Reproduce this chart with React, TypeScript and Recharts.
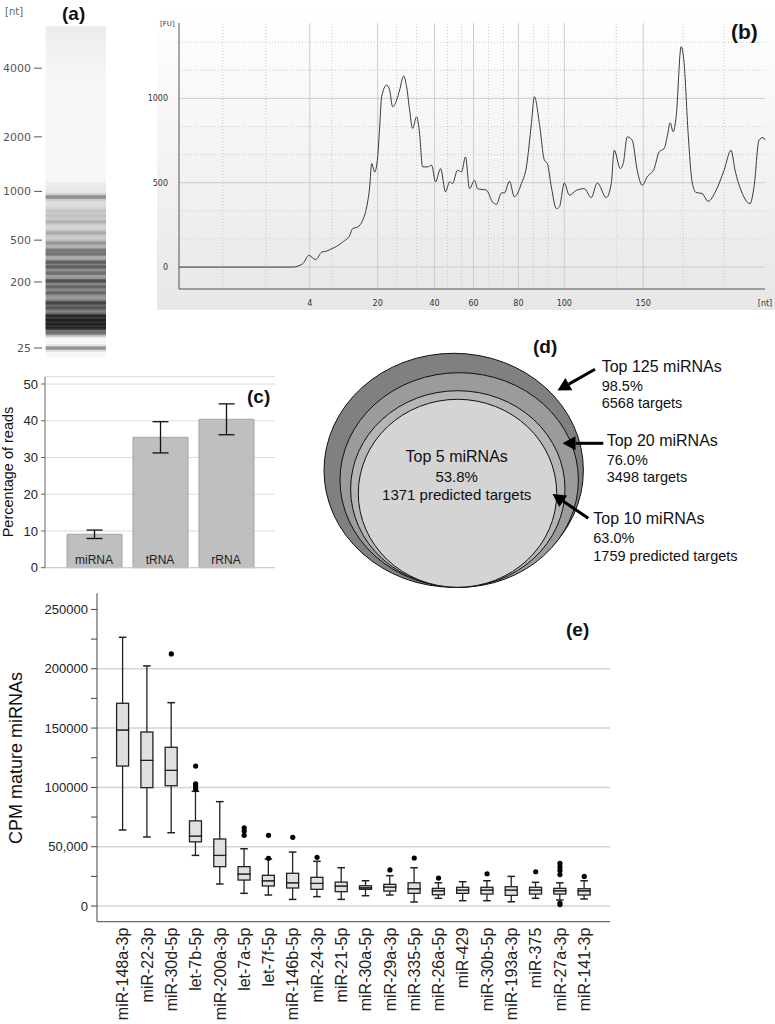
import React from 'react';
import {
  ComposedChart, LineChart, Line, BarChart, Bar, ErrorBar, ScatterChart, Scatter,
  XAxis, YAxis, CartesianGrid, ReferenceArea, ReferenceLine,
} from 'recharts';

// (a) gel lane: ladder ticks and bands on a migration scale (0 = top of lane)
const gelTickLabels = ['4000', '2000', '1000', '500', '200', '25'];
const gelTickPos = [12.7, 33.4, 49.8, 64.5, 77.1, 97.0];
const gelBandPos = [51.5, 55.7, 57.2, 59.0, 62.3, 65.4, 67.5, 68.7, 71.1, 72.6, 74.4, 76.8, 78.6, 80.4, 83.4, 84.9, 87.3, 88.6, 89.8, 91.0, 92.5, 97.0];
const gelBandDensity = [0.45, 0.12, 0.12, 0.2, 0.22, 0.3, 0.45, 0.45, 0.6, 0.58, 0.45, 0.68, 0.5, 0.45, 0.7, 0.5, 0.9, 1, 1, 0.95, 0.5, 0.5];

// (b) electropherogram trace (migration time vs FU)
const traceTime = [
  0, 11.4, 12.4, 13.0, 13.7, 14.3, 14.8, 15.3, 15.8, 16.4,
  17.1, 17.4, 17.9, 18.4, 18.8, 19.1, 19.3, 19.6, 19.9, 20.1,
  20.3, 20.8, 21.1, 21.4, 21.8, 22.1, 22.5, 22.8, 23.1, 23.4,
  23.8, 24.1, 24.4, 24.9, 25.3, 25.7, 26.2, 26.7, 27.1, 27.4,
  27.9, 28.3, 28.7, 29.1, 29.6, 29.9, 30.8, 31.4, 31.8, 32.3,
  32.6, 33.1, 33.6, 34.3, 34.8, 35.3, 35.6, 36.1, 36.6, 36.9,
  37.3, 37.8, 38.1, 38.6, 39.1, 39.8, 40.6, 41.3, 41.9, 42.8,
  43.3, 43.6, 44.2, 44.5, 44.9, 45.4, 45.9, 46.4, 46.9, 47.6,
  48.1, 48.6, 48.9, 49.2, 49.5, 49.8, 50.3, 50.6, 51.0, 51.4,
  51.8, 52.4, 53.0, 53.8, 54.6, 55.3, 55.7, 56.3, 57.2, 57.6,
  58.1, 58.5, 58.7,
];
const traceFu = [
  0, 0, 20, 69, 44, 89, 95, 109, 123, 149,
  188, 228, 238, 277, 356, 475, 614, 564, 653, 832,
  1010, 1079, 1049, 950, 990, 1049, 1133, 1069, 931, 822,
  891, 792, 594, 594, 604, 505, 584, 446, 505, 495,
  574, 564, 653, 465, 515, 465, 456, 386, 372, 440,
  440, 509, 416, 495, 594, 851, 1010, 851, 634, 614,
  475, 347, 356, 499, 426, 455, 465, 412, 499, 412,
  495, 693, 584, 614, 772, 752, 574, 485, 535, 584,
  683, 703, 772, 855, 802, 891, 1307, 1208, 792, 505,
  442, 436, 390, 455, 574, 693, 574, 455, 376, 475,
  752, 768, 752,
];
const ntTickLabels = ['4', '20', '40', '60', '80', '100', '150', '[nt]'];
const ntTickPos = [13.1, 19.9, 25.6, 29.5, 34.0, 38.6, 46.5, 58.7];
const ladderMinor = [4.4, 8.7, 15.3, 21.8, 23.8, 26.9, 28.3, 31.0, 32.5, 35.5, 37.0, 43.8, 50.5, 54.6];
const fuTicks = [0, 500, 1000];
const fuMinor = [167, 333, 667, 833, 1167, 1333];

// (c) read composition
const readTypes = ['miRNA', 'tRNA', 'rRNA'];
const readPct = [9.1, 35.5, 40.4];
const readSd = [1.15, 4.25, 4.2];

// (d) nested miRNA sets
const ringNames = ['Top 125 miRNAs', 'Top 20 miRNAs', 'Top 10 miRNAs', 'Top 5 miRNAs'];
const ringShare = ['98.5%', '76.0%', '63.0%', '53.8%'];
const ringTargets = ['6568 targets', '3498 targets', '1759 predicted targets', '1371 predicted targets'];

// (e) box plot of the 20 most abundant miRNAs (CPM)
const mirNames = ['miR-148a-3p', 'miR-22-3p', 'miR-30d-5p', 'let-7b-5p', 'miR-200a-3p', 'let-7a-5p', 'let-7f-5p', 'miR-146b-5p', 'miR-24-3p', 'miR-21-5p', 'miR-30a-5p', 'miR-29a-3p', 'miR-335-5p', 'miR-26a-5p', 'miR-429', 'miR-30b-5p', 'miR-193a-3p', 'miR-375', 'miR-27a-3p', 'miR-141-3p'];
const wMin = [64100, 58200, 61800, 42700, 18600, 10700, 9300, 5600, 7900, 5600, 8700, 9300, 3400, 6500, 4500, 4500, 3600, 6500, 5100, 5900];
const q1 = [118000, 99800, 101400, 54100, 33200, 21900, 16900, 15200, 14100, 12100, 14100, 12600, 10700, 9500, 10700, 10100, 9000, 10100, 10100, 9300];
const med = [148400, 122800, 114400, 59000, 42700, 27000, 21300, 19600, 19100, 16900, 15400, 16000, 14600, 12900, 13500, 13500, 13500, 13500, 12900, 12900];
const q3 = [170900, 146700, 133800, 71800, 56500, 33200, 25900, 27600, 24200, 20200, 17100, 18300, 19600, 14900, 15800, 15800, 16300, 15800, 14900, 14600];
const wMax = [226500, 202400, 171400, 96700, 88000, 48300, 39600, 45500, 37700, 32300, 21300, 25600, 32300, 19600, 20500, 21300, 25000, 20000, 19600, 21300];
const outlierNames = ['miR-30d-5p', 'let-7b-5p', 'let-7b-5p', 'let-7b-5p', 'let-7b-5p', 'let-7a-5p', 'let-7a-5p', 'let-7a-5p', 'let-7f-5p', 'let-7f-5p', 'miR-146b-5p', 'miR-24-3p', 'miR-29a-3p', 'miR-335-5p', 'miR-26a-5p', 'miR-30b-5p', 'miR-375', 'miR-27a-3p', 'miR-27a-3p', 'miR-27a-3p', 'miR-27a-3p', 'miR-27a-3p', 'miR-27a-3p', 'miR-141-3p'];
const outlierValues = [212500, 118000, 103000, 101000, 98500, 66000, 63200, 59600, 59600, 40200, 57900, 41100, 30400, 40500, 23600, 27200, 28900, 36000, 33000, 30000, 26500, 2500, 1200, 25000];
const cpmTicks = [0, 25000, 50000, 75000, 100000, 125000, 150000, 175000, 200000, 225000, 250000];
const cpmTickLabels = ['0', '', '50,000', '', '100000', '', '150000', '', '200000', '', '250000'];

// derived tables
const gelBands = gelBandPos.map((m, i) => ({ m, k: gelBandDensity[i] }));
const trace = traceTime.map((t, i) => ({ t, fu: traceFu[i] }));
const readData = readTypes.map((cat, i) => ({ cat, value: readPct[i], err: readSd[i] }));
const boxData = mirNames.map((name, i) => ({
  name,
  base: wMin[i],
  lw: q1[i] - wMin[i],
  lb: med[i] - q1[i],
  ub: q3[i] - med[i],
  uw: wMax[i] - q3[i],
}));
const outliers = outlierNames.map((name, i) => ({ name, value: outlierValues[i] }));

// diagram geometry for (d), in panel pixels
const ringLayout = [
  { cx: 153.7, cy: 140.3, rx: 129.7, ry: 117, fill: '#808080' },
  { cx: 159.2, cy: 150, rx: 119.2, ry: 107.3, fill: '#9b9b9b' },
  { cx: 157.8, cy: 159, rx: 107.2, ry: 98.3, fill: '#b5b5b5' },
  { cx: 157.5, cy: 163.3, rx: 99.2, ry: 94, fill: '#d4d4d4' },
];
// arrow tips, with the tail offset from the tip
const arrowLayout = [
  { x: 257.5, y: 60.5, tx: 37.5, ty: -21.2 },
  { x: 262.5, y: 113.3, tx: 40.8, ty: 0 },
  { x: 252.5, y: 164, tx: 35.8, ty: 24.3 },
];

const sans = '"Liberation Sans", Arial, sans-serif';
const dv = '"DejaVu Sans", Verdana, sans-serif';

const Txt = ({ x, y, size, children, bold, center, color, font }: any) => (
  <div
    style={{
      position: 'absolute', left: x, top: y - size * 0.58, fontSize: size, lineHeight: 1,
      whiteSpace: 'nowrap', fontWeight: bold ? 'bold' : 'normal', color: color || '#111',
      fontFamily: font || sans, transform: center ? 'translateX(-50%)' : undefined,
    }}
  >
    {children}
  </div>
);

const VTxt = ({ x, y, size, children }: any) => (
  <div
    style={{
      position: 'absolute', left: x - 150, top: y - 12, width: 300, height: 24, lineHeight: '24px',
      textAlign: 'center', fontSize: size, fontFamily: sans, color: '#111', transform: 'rotate(-90deg)',
      whiteSpace: 'nowrap',
    }}
  >
    {children}
  </div>
);

const GelTick = (p: any) => {
  const i = gelTickPos.indexOf(p.payload.value);
  return (
    <g>
      <line x1={p.x - 11} x2={p.x - 3} y1={p.y} y2={p.y} stroke="#555" strokeWidth={1} />
      <text x={p.x - 14} y={p.y} dy="0.35em" textAnchor="end" fontSize={11} fontFamily={dv} fill="#555">
        {gelTickLabels[i]}
      </text>
    </g>
  );
};

const ArrowShape = (p: any) => {
  const x2 = p.cx, y2 = p.cy;
  const x1 = x2 + p.payload.tx, y1 = y2 + p.payload.ty;
  const dx = x2 - x1, dy = y2 - y1;
  const L = Math.hypot(dx, dy);
  const ux = dx / L, uy = dy / L;
  const hl = 13, hw = 7;
  const bx = x2 - ux * hl, by = y2 - uy * hl;
  return (
    <g>
      <line x1={x1} y1={y1} x2={bx} y2={by} stroke="#000" strokeWidth={3} />
      <polygon points={`${x2},${y2} ${bx - uy * hw},${by + ux * hw} ${bx + uy * hw},${by - ux * hw}`} fill="#000" />
    </g>
  );
};

const boxStroke = '#222';
const BoxPart = (p: any) => {
  if (!(p.height > 0)) return <g />;
  return <rect x={p.x} y={p.y} width={p.width} height={p.height} fill="#e0e0e0" stroke={boxStroke} strokeWidth={1.3} />;
};
const makeWhisker = (top: boolean) => (p: any) => {
  if (!(p.height >= 0)) return <g />;
  const cx = p.x + p.width / 2;
  const cap = top ? p.y : p.y + p.height;
  return (
    <g>
      <line x1={cx} x2={cx} y1={p.y} y2={p.y + p.height} stroke={boxStroke} strokeWidth={1.3} />
      <line x1={cx - 3.8} x2={cx + 3.8} y1={cap} y2={cap} stroke={boxStroke} strokeWidth={1.5} />
    </g>
  );
};
const UpperWhisker = makeWhisker(true);
const LowerWhisker = makeWhisker(false);

const MirTick = (p: any) => (
  <text
    x={p.x} y={p.y} dy="0.35em" textAnchor="end" fontSize={16} fontFamily={sans} fill="#222"
    transform={`rotate(-90, ${p.x}, ${p.y})`}
  >
    {p.payload.value}
  </text>
);

const ReadTick = (p: any) => (
  <text x={p.x} y={p.y - 4} textAnchor="middle" fontSize={12} fontFamily={sans} fill="#222">
    {p.payload.value}
  </text>
);

export default function App() {
  return (
    <div style={{ position: 'absolute', left: 0, top: 0, width: 775, height: 1024, background: '#fff', overflow: 'hidden', fontFamily: sans }}>
      {/* (a) gel */}
      <div style={{ position: 'absolute', left: 0, top: 0 }}>
        <ComposedChart width={110} height={365} data={gelBands} margin={{ top: 26, right: 4, bottom: 7, left: 0 }}>
          <defs>
            <linearGradient id="smear" x1="0" y1="0" x2="0" y2="1">
              <stop offset="0" stopColor="#000" stopOpacity={0.03} />
              <stop offset="0.12" stopColor="#000" stopOpacity={0.1} />
              <stop offset="0.3" stopColor="#000" stopOpacity={0.14} />
              <stop offset="0.5" stopColor="#000" stopOpacity={0.26} />
              <stop offset="0.7" stopColor="#000" stopOpacity={0.33} />
              <stop offset="0.85" stopColor="#000" stopOpacity={0.45} />
              <stop offset="0.93" stopColor="#000" stopOpacity={0.45} />
              <stop offset="1" stopColor="#000" stopOpacity={0.03} />
            </linearGradient>
            <linearGradient id="laneTop" x1="0" y1="0" x2="0" y2="1">
              <stop offset="0" stopColor="#ececec" />
              <stop offset="0.15" stopColor="#f6f6f6" />
              <stop offset="1" stopColor="#f7f7f7" />
            </linearGradient>
          </defs>
          <XAxis type="number" dataKey="k" domain={[0, 1]} hide />
          <YAxis
            type="number" dataKey="m" domain={[0, 100]} reversed width={45} ticks={gelTickPos} interval={0}
            axisLine={false} tickLine={false} tickSize={0} tickMargin={0} tick={GelTick}
          />
          <ReferenceArea x1={0.01} x2={1} y1={0} y2={100} fill="url(#laneTop)" fillOpacity={1} />
          <ReferenceArea x1={0.01} x2={1} y1={47} y2={94} fill="url(#smear)" fillOpacity={1} />
          {gelBands.map((b, i) => (
            <ReferenceArea key={'h' + i} x1={0.01} x2={1} y1={b.m - 1.1} y2={b.m + 1.1} fill="#000" fillOpacity={b.k * 0.22} />
          ))}
          {gelBands.map((b, i) => (
            <ReferenceArea key={'b' + i} x1={0.01} x2={1} y1={b.m - 0.5} y2={b.m + 0.5} fill="#000" fillOpacity={b.k * 0.65} />
          ))}
        </ComposedChart>
      </div>
      <Txt x={5} y={13} size={10} color="#666" font={dv}>[nt]</Txt>
      <Txt x={62} y={15} size={19} bold>(a)</Txt>

      {/* (b) electropherogram */}
      <div style={{ position: 'absolute', left: 157, top: 8, width: 618, height: 302, background: 'linear-gradient(#ffffff, #e7e7e7)' }} />
      <div style={{ position: 'absolute', left: 137, top: 8 }}>
        <LineChart width={638} height={302} data={trace} margin={{ top: 15, right: 10, bottom: 0, left: 0 }}>
          {fuMinor.map((v) => (
            <ReferenceLine key={'fm' + v} y={v} stroke="#c9c9c9" strokeDasharray="1 2" />
          ))}
          {ladderMinor.map((v) => (
            <ReferenceLine key={'lm' + v} x={v} stroke="#c9c9c9" strokeDasharray="1 2" />
          ))}
          {fuTicks.map((v) => (
            <ReferenceLine key={'fs' + v} y={v} stroke="#cdcdcd" />
          ))}
          {ntTickPos.slice(0, -1).map((v) => (
            <ReferenceLine key={'ns' + v} x={v} stroke="#cdcdcd" />
          ))}
          <XAxis
            type="number" dataKey="t" domain={[0, 58.7]} ticks={ntTickPos} interval={0} height={21}
            tickFormatter={(v: number) => ntTickLabels[ntTickPos.indexOf(v)]}
            axisLine={{ stroke: '#555' }} tickLine={false} tickMargin={5}
            tick={{ fontSize: 8, fill: '#333', fontFamily: dv }}
          />
          <YAxis
            type="number" domain={[-130, 1447]} ticks={fuTicks} interval={0} width={42}
            axisLine={{ stroke: '#555' }} tickLine={false} tickMargin={5}
            tick={{ fontSize: 8, fill: '#333', fontFamily: dv }}
          />
          <Line type="monotone" dataKey="fu" stroke="#3a3a3a" strokeWidth={1} dot={false} isAnimationActive={false} />
        </LineChart>
      </div>
      <Txt x={160} y={25} size={7} color="#333" font={dv}>[FU]</Txt>
      <Txt x={731} y={33} size={21} bold>(b)</Txt>

      {/* (c) reads */}
      <div style={{ position: 'absolute', left: 0, top: 370 }}>
        <BarChart width={290} height={210} data={readData} margin={{ top: 6.7, right: 15, bottom: 2.3, left: 0 }}>
          <CartesianGrid vertical={false} stroke="#dcdcdc" />
          <XAxis
            dataKey="cat" height={10} axisLine={{ stroke: '#c8c8c8' }} tickLine={false} tickSize={0} tickMargin={0}
            tick={ReadTick} padding={{ left: 16, right: 16 }} interval={0}
          />
          <YAxis
            domain={[0, 52]} ticks={[0, 10, 20, 30, 40, 50]} interval={0} width={45}
            axisLine={{ stroke: '#666' }} tickLine={{ stroke: '#666' }} tickSize={4} tickMargin={3}
            tick={{ fontSize: 13, fill: '#222', fontFamily: sans }}
          />
          <Bar dataKey="value" fill="#bfbfbf" stroke="#a3a3a3" barSize={55} isAnimationActive={false}>
            <ErrorBar dataKey="err" width={8} stroke="#111" strokeWidth={1.3} direction="y" />
          </Bar>
        </BarChart>
      </div>
      <VTxt x={8} y={472} size={14.5}>Percentage of reads</VTxt>
      <Txt x={247} y={398} size={19} bold>(c)</Txt>

      {/* (d) nested sets */}
      <div style={{ position: 'absolute', left: 300, top: 330 }}>
        <ScatterChart width={475} height={262} margin={{ top: 0, right: 0, bottom: 0, left: 0 }}>
          <XAxis type="number" dataKey="x" domain={[0, 475]} hide />
          <YAxis type="number" dataKey="y" domain={[0, 262]} reversed hide />
          <Scatter
            data={ringLayout.map((r) => ({ ...r, x: r.cx, y: r.cy }))} isAnimationActive={false}
            shape={(p: any) => (
              <ellipse cx={p.cx} cy={p.cy} rx={p.payload.rx} ry={p.payload.ry} fill={p.payload.fill} stroke="#111" strokeWidth={1} />
            )}
          />
          <Scatter data={arrowLayout} isAnimationActive={false} shape={ArrowShape} />
        </ScatterChart>
      </div>
      <Txt x={533} y={348} size={19} bold>(d)</Txt>
      <Txt x={601.7} y={368} size={16}>{ringNames[0]}</Txt>
      <Txt x={601.7} y={387} size={14.5}>{ringShare[0]}</Txt>
      <Txt x={601.7} y={404} size={14.5}>{ringTargets[0]}</Txt>
      <Txt x={606.7} y={442} size={16}>{ringNames[1]}</Txt>
      <Txt x={606.7} y={461} size={14.5}>{ringShare[1]}</Txt>
      <Txt x={606.7} y={478} size={14.5}>{ringTargets[1]}</Txt>
      <Txt x={593.3} y={520} size={16}>{ringNames[2]}</Txt>
      <Txt x={593.3} y={539} size={14.5}>{ringShare[2]}</Txt>
      <Txt x={593.3} y={557} size={14.5}>{ringTargets[2]}</Txt>
      <Txt x={456.7} y={458} size={16} center>{ringNames[3]}</Txt>
      <Txt x={456.7} y={478} size={15} center>{ringShare[3]}</Txt>
      <Txt x={456.7} y={496} size={15} center>{ringTargets[3]}</Txt>

      {/* (e) box plot */}
      <div style={{ position: 'absolute', left: 0, top: 585 }}>
        <ComposedChart width={640} height={439} data={boxData} margin={{ top: 8.3, right: 30, bottom: 2.3, left: 0 }}>
          <CartesianGrid vertical={false} horizontalValues={[0, 50000, 100000, 150000, 200000]} stroke="#d3d3d3" strokeWidth={1.5} />
          <XAxis
            dataKey="name" height={100} interval={0} allowDuplicatedCategory={false}
            axisLine={{ stroke: '#444' }} tickLine={false} tickSize={0} tickMargin={6}
            tick={MirTick} padding={{ left: 13.6, right: 13.6 }}
          />
          <YAxis
            type="number" domain={[-13200, 263600]} ticks={cpmTicks} interval={0} width={97}
            tickFormatter={(v: number) => cpmTickLabels[cpmTicks.indexOf(v)]}
            axisLine={{ stroke: '#444' }} tickLine={{ stroke: '#444' }} tickSize={6} tickMargin={3}
            tick={{ fontSize: 13, fill: '#222', fontFamily: sans }}
          />
          <Bar dataKey="base" stackId="box" barSize={12} fill="none" shape={() => <g />} isAnimationActive={false} />
          <Bar dataKey="lw" stackId="box" barSize={12} shape={LowerWhisker} isAnimationActive={false} />
          <Bar dataKey="lb" stackId="box" barSize={12} shape={BoxPart} isAnimationActive={false} />
          <Bar dataKey="ub" stackId="box" barSize={12} shape={BoxPart} isAnimationActive={false} />
          <Bar dataKey="uw" stackId="box" barSize={12} shape={UpperWhisker} isAnimationActive={false} />
          <Scatter
            data={outliers} dataKey="value" isAnimationActive={false}
            shape={(p: any) => <circle cx={p.cx} cy={p.cy} r={2.6} fill="#000" />}
          />
        </ComposedChart>
      </div>
      <VTxt x={16} y={758} size={18}>CPM mature miRNAs</VTxt>
      <Txt x={566} y={631} size={19} bold>(e)</Txt>
    </div>
  );
}
